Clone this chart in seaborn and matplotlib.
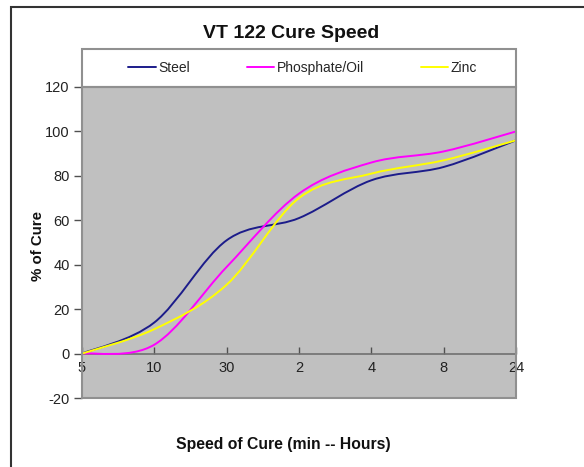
import numpy as np
import matplotlib
matplotlib.use("Agg")
import matplotlib.pyplot as plt
from matplotlib.path import Path
from matplotlib.patches import PathPatch, Rectangle
from matplotlib.lines import Line2D
import seaborn as sns

# data
categories = ["5", "10", "30", "2", "4", "8", "24"]
steel = [0, 14, 51, 61, 78, 84, 96]
phosphate_oil = [0, 4, 39, 72, 86, 91, 100]
zinc = [0, 11, 31, 70, 81, 87, 96]

series_names = ["Steel", "Phosphate/Oil", "Zinc"]
series_colors = ["#1c1c8a", "#ff00ff", "#ffff00"]


def smooth_path(xs, ys):
    # Excel-style smoothed line: cubic bezier through each point
    pts = np.column_stack([xs, ys]).astype(float)
    n = len(pts)
    verts = [pts[0]]
    codes = [Path.MOVETO]
    for i in range(n - 1):
        p0 = pts[max(i - 1, 0)]
        p1 = pts[i]
        p2 = pts[i + 1]
        p3 = pts[min(i + 2, n - 1)]
        c1 = p1 + (p2 - p0) / 6.0
        c2 = p2 - (p3 - p1) / 6.0
        verts += [c1, c2, p2]
        codes += [Path.CURVE4] * 3
    return Path(verts, codes)


sns.set_theme(style="white")
plt.rcParams["font.family"] = ["Liberation Sans", "DejaVu Sans"]
plt.rcParams["axes.unicode_minus"] = False

fig = plt.figure(figsize=(5.84, 4.67), dpi=100)
W, H = 584, 467
left, right, top, bottom = 82, 516, 87, 398
ax = fig.add_axes([left / W, 1 - bottom / H, (right - left) / W, (bottom - top) / H])
ax.set_facecolor("#c0c0c0")

x = np.arange(len(categories))
handles = []
for name, vals, col in zip(series_names, [steel, phosphate_oil, zinc], series_colors):
    patch = PathPatch(smooth_path(x, vals), facecolor="none", edgecolor=col,
                      lw=1.4, zorder=3, capstyle="round", joinstyle="round")
    ax.add_patch(patch)
    handles.append(Line2D([], [], color=col, lw=1.4, label=name))

ax.set_xlim(0, len(categories) - 1)
ax.set_ylim(-20, 120)
ax.set_yticks(range(-20, 121, 20))
ax.set_xticks(x)
ax.set_xticklabels(categories)

for s in ["top", "right"]:
    ax.spines[s].set_visible(False)
ax.spines["bottom"].set_position(("data", 0))
ax.spines["bottom"].set_color("#707070")
ax.spines["bottom"].set_linewidth(1.2)
ax.spines["left"].set_color("#707070")
ax.spines["left"].set_linewidth(1.2)

ax.tick_params(axis="x", direction="in", length=5, width=1, color="#505050",
               labelsize=10.5, labelcolor="#222222", pad=5, bottom=True)
ax.tick_params(axis="y", direction="out", length=6, width=1, color="#505050",
               labelsize=10.5, labelcolor="#222222", pad=3, left=True)

# plot area frame
ax.add_patch(Rectangle((0, 0), 1, 1, transform=ax.transAxes, fill=False,
                       edgecolor="#909090", lw=1.5, clip_on=False, zorder=4))

# legend box above plot area
leg_h = (top - 49) / (bottom - top)
leg = ax.legend(handles=handles, loc="center", ncol=3,
                bbox_to_anchor=(0.008, 1.0, 1, leg_h),
                frameon=False, fontsize=10, handlelength=2.0,
                handletextpad=0.15, borderaxespad=0, columnspacing=4.1)
ax.add_patch(Rectangle((0, 1), 1, leg_h, transform=ax.transAxes,
                       facecolor="white", edgecolor="#909090", lw=1.5,
                       clip_on=False, zorder=1))

fig.text(291 / W, 1 - 33 / H, "VT 122 Cure Speed", ha="center", va="center",
         fontsize=14, fontweight="bold", color="#111111")
fig.text(283 / W, 1 - 445 / H, "Speed of Cure (min -- Hours)", ha="center",
         va="center", fontsize=11.3, fontweight="bold", color="#111111")
fig.text(38 / W, 1 - 246 / H, "% of Cure", ha="center", va="center",
         rotation=90, fontsize=10.8, fontweight="bold", color="#111111")

# outer chart border
fig.add_artist(Rectangle((10.5 / W, -0.1), 1.2, 1 - 6.5 / H + 0.1,
                         transform=fig.transFigure, fill=False,
                         edgecolor="#333333", lw=1.5))

fig.savefig("out.png", dpi=100)
